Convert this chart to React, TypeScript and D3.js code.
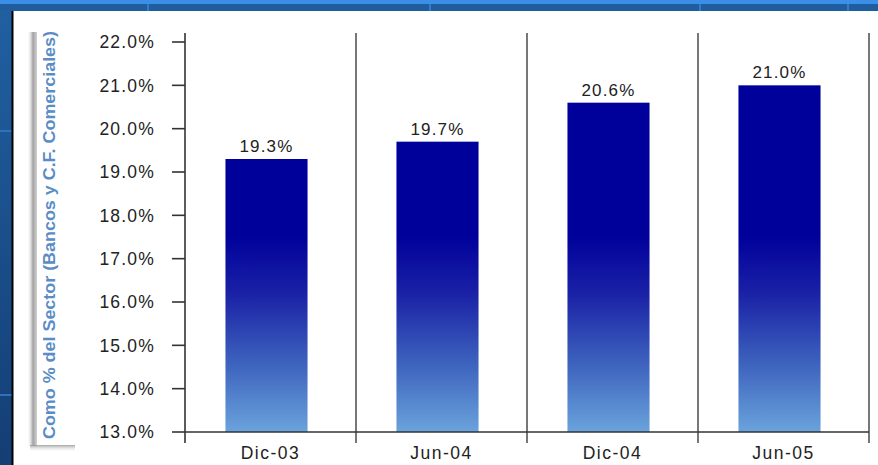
import React from "react";
import * as d3 from "d3";

const categories = ["Dic-03", "Jun-04", "Dic-04", "Jun-05"];
const values = [19.3, 19.7, 20.6, 21.0];
const yTickValues = [13, 14, 15, 16, 17, 18, 19, 20, 21, 22];
const yLabel = "Como % del Sector (Bancos y C.F. Comerciales)";

const W = 878;
const H = 465;

export default function App() {
  const x0 = 185;
  const x1 = 869;
  const yBase = 432;
  const yTop = 42;
  const y = d3.scaleLinear().domain([13, 22]).range([yBase, yTop]);
  const xBand = d3.scaleBand<string>().domain(categories).range([x0, x1]).padding(0);
  const xBar = d3
    .scaleBand<string>()
    .domain(categories)
    .range([x0 - 4, x1 - 4])
    .paddingInner(0.52)
    .paddingOuter(0.26);
  const fmt = (v: number) => v.toFixed(1) + "%";
  const font = "'Liberation Sans', Arial, sans-serif";

  return (
    <div style={{ position: "fixed", left: 0, top: 0 }}>
      <svg width={W} height={H} style={{ display: "block" }}>
        <defs>
          <linearGradient id="bg" x1="0" y1="0" x2="0" y2="1">
            <stop offset="0" stopColor="#2160a2" />
            <stop offset="1" stopColor="#143e74" />
          </linearGradient>
          <linearGradient id="barGrad" gradientUnits="userSpaceOnUse" x1="0" y1={yBase} x2="0" y2={235}>
            <stop offset="0" stopColor="#6aa3dc" />
            <stop offset="0.35" stopColor="#3d62bd" />
            <stop offset="0.7" stopColor="#1a22a6" />
            <stop offset="1" stopColor="#00009a" />
          </linearGradient>
          <linearGradient id="shadowV" x1="0" y1="0" x2="1" y2="0">
            <stop offset="0" stopColor="#ffffff" stopOpacity="0" />
            <stop offset="0.6" stopColor="#8a8a8a" stopOpacity="0.8" />
            <stop offset="1" stopColor="#b0b0b0" stopOpacity="0.6" />
          </linearGradient>
          <linearGradient id="shadowH" x1="0" y1="0" x2="0" y2="1">
            <stop offset="0" stopColor="#909090" stopOpacity="0.8" />
            <stop offset="1" stopColor="#ffffff" stopOpacity="0" />
          </linearGradient>
        </defs>

        {/* background frame */}
        <rect x={0} y={0} width={W} height={H} fill="url(#bg)" />
        <rect x={0} y={0} width={W} height={4} fill="#3b8fe6" />
        <rect x={0} y={4} width={W} height={7} fill="#1f5d9e" />
        {[148, 430, 700, 848].map((lx) => (
          <line key={lx} x1={lx} x2={lx} y1={4} y2={11} stroke="#2f7ccc" strokeWidth={2} />
        ))}
        {[131, 395].map((ly) => (
          <line key={ly} x1={0} x2={12} y1={ly} y2={ly} stroke="#2d72bd" strokeWidth={2} />
        ))}
        <rect x={13} y={11} width={W - 13} height={H - 11} fill="#ffffff" />
        <line x1={12.5} x2={12.5} y1={11} y2={H} stroke="#000" strokeWidth={2} />

        {/* y label box shadow */}
        <rect x={27} y={32} width={10} height={414} fill="url(#shadowV)" />
        <rect x={30} y={445} width={45} height={7} fill="url(#shadowH)" />
        <text
          transform={`translate(55,${(30 + 440) / 2}) rotate(-90)`}
          textAnchor="middle"
          fontFamily="'Liberation Sans Narrow', 'Liberation Sans', Arial, sans-serif"
          fontWeight="bold"
          fontSize={17}
          fill="#5a8cc6"
          textLength={408}
          lengthAdjust="spacingAndGlyphs"
        >
          {yLabel}
        </text>

        {/* bars */}
        {categories.map((c, i) => (
          <rect
            key={c}
            x={xBar(c)}
            y={y(values[i])}
            width={xBar.bandwidth()}
            height={yBase - y(values[i])}
            fill="url(#barGrad)"
          />
        ))}
        {categories.map((c, i) => (
          <text
            key={c}
            x={(xBar(c) as number) + xBar.bandwidth() / 2}
            y={y(values[i]) - 7}
            textAnchor="middle"
            fontFamily={font}
            fontSize={17}
            letterSpacing={1.2}
            fill="#222"
          >
            {fmt(values[i])}
          </text>
        ))}

        {/* separators */}
        {categories.map((c) => {
          const sx = (xBand(c) as number) + xBand.step();
          return (
            <line key={c} x1={sx} x2={sx} y1={33} y2={443} stroke="#555" strokeWidth={1.6} />
          );
        })}

        {/* y axis */}
        <line x1={x0} x2={x0} y1={33} y2={443} stroke="#333" strokeWidth={1.6} />
        {yTickValues.map((t) => (
          <g key={t}>
            <line x1={172} x2={x0} y1={y(t)} y2={y(t)} stroke="#333" strokeWidth={1.6} />
            <text
              x={155}
              y={y(t)}
              dy="0.36em"
              textAnchor="end"
              fontFamily={font}
              fontSize={17.5}
              letterSpacing={1.2}
              fill="#222"
            >
              {fmt(t)}
            </text>
          </g>
        ))}

        {/* x axis */}
        <line x1={x0} x2={x1} y1={yBase} y2={yBase} stroke="#333" strokeWidth={1.6} />
        {categories.map((c) => (
          <text
            key={c}
            x={(xBand(c) as number) + xBand.bandwidth() / 2}
            y={459}
            textAnchor="middle"
            fontFamily={font}
            fontSize={17.5}
            letterSpacing={1.5}
            fill="#222"
          >
            {c}
          </text>
        ))}
      </svg>
    </div>
  );
}
